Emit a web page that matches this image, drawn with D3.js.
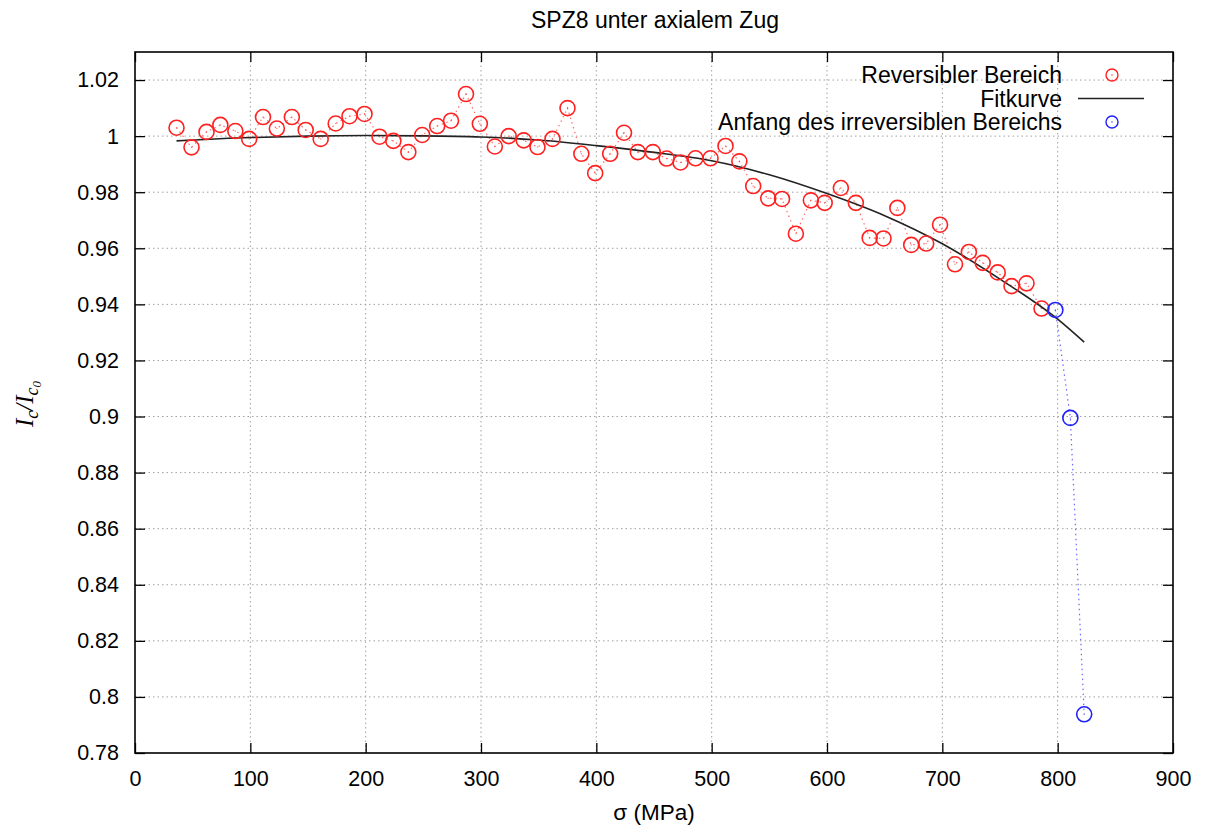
<!DOCTYPE html>
<html>
<head>
<meta charset="utf-8">
<script src="https://cdn.jsdelivr.net/npm/d3@7"></script>
<style>
  body { margin: 0; background: #fff; }
  svg { font-family: "Liberation Sans", Arial, sans-serif; }
</style>
</head>
<body>
<svg id="chart"></svg>
<script>
// reversible range: stress (MPa) and normalized critical current
const revStress = [36, 49, 62, 74, 87, 99, 111, 123, 136, 148, 161, 174, 186, 199, 212, 224, 237, 249, 262, 274,
  287, 299, 312, 324, 337, 349, 362, 375, 387, 399, 412, 424, 436, 449, 461, 473, 486, 499, 512, 524,
  536, 549, 561, 573, 586, 598, 612, 625, 637, 649, 661, 673, 686, 698, 711, 723, 735, 748, 760, 773, 786];
const revIc = [1.003, 0.996, 1.0015, 1.004, 1.0018, 0.999, 1.0068, 1.0027, 1.0068, 1.0022, 0.999, 1.0045, 1.0071, 1.0079, 0.9998, 0.9983, 0.9943, 1.0004, 1.0036, 1.0055,
  1.015, 1.0044, 0.9963, 1.0, 0.9985, 0.9961, 0.999, 1.01, 0.9937, 0.9868, 0.9937, 1.0012, 0.9943, 0.9943, 0.992, 0.9906, 0.9921, 0.9921, 0.9965, 0.991,
  0.9822, 0.9778, 0.9776, 0.9652, 0.9771, 0.9762, 0.9815, 0.9762, 0.9637, 0.9635, 0.9744, 0.9612, 0.9617, 0.9684, 0.9543, 0.9587, 0.9548, 0.9514, 0.9465, 0.9475, 0.9385];

// start of irreversible range
const irrStress = [798, 811, 823];
const irrIc = [0.938, 0.8995, 0.7938];

// fit curve
const fitStress = [36, 100, 150, 200, 250, 300, 350, 400, 450, 500, 550, 600, 650, 700, 750, 800, 823];
const fitIc = [0.9983, 0.9995, 1.0, 1.0002, 1.0001, 0.9997, 0.9986, 0.9966, 0.9942, 0.9912, 0.9862, 0.9795, 0.9716, 0.9616, 0.949, 0.9347, 0.9265];

const xTicks = [0, 100, 200, 300, 400, 500, 600, 700, 800, 900];
const yTicks = [0.78, 0.8, 0.82, 0.84, 0.86, 0.88, 0.9, 0.92, 0.94, 0.96, 0.98, 1, 1.02];

const width = 1205, height = 827;
const margin = { top: 52, right: 32, bottom: 74, left: 135 };
const innerW = width - margin.left - margin.right;
const innerH = height - margin.top - margin.bottom;

const svg = d3.select("#chart").attr("width", width).attr("height", height);
const g = svg.append("g").attr("transform", `translate(${margin.left},${margin.top})`);

const x = d3.scaleLinear().domain([0, 900]).range([0, innerW]);
const y = d3.scaleLinear().domain([0.78, 1.03]).range([innerH, 0]);

// dotted grid
g.append("g").selectAll("line").data(xTicks.slice(1, -1)).join("line")
  .attr("x1", d => x(d)).attr("x2", d => x(d)).attr("y1", 0).attr("y2", innerH)
  .attr("stroke", "#a0a0a0").attr("stroke-dasharray", "1.5,3").attr("stroke-width", 1);
g.append("g").selectAll("line").data(yTicks.slice(1)).join("line")
  .attr("x1", 0).attr("x2", innerW).attr("y1", d => y(d)).attr("y2", d => y(d))
  .attr("stroke", "#a0a0a0").attr("stroke-dasharray", "1.5,3").attr("stroke-width", 1);

// axes, ticks pointing inwards on all four sides
const fmt = d3.format("~g");
const xAxis = g.append("g").attr("transform", `translate(0,${innerH})`)
  .call(d3.axisBottom(x).tickValues(xTicks).tickSize(-10).tickPadding(18).tickFormat(fmt));
const yAxis = g.append("g")
  .call(d3.axisLeft(y).tickValues(yTicks).tickSize(-10).tickPadding(16).tickFormat(fmt));
g.append("g").call(d3.axisTop(x).tickValues(xTicks).tickSize(-10).tickFormat(""));
g.append("g").attr("transform", `translate(${innerW},0)`)
  .call(d3.axisRight(y).tickValues(yTicks).tickSize(-10).tickFormat(""));

g.selectAll(".domain").remove();
g.selectAll(".tick line").attr("stroke", "#000").attr("stroke-width", 1.3);
xAxis.selectAll("text").attr("font-size", 21.5).attr("fill", "#000");
yAxis.selectAll("text").attr("font-size", 21.5).attr("fill", "#000");

// frame
g.append("rect").attr("width", innerW).attr("height", innerH)
  .attr("fill", "none").attr("stroke", "#000").attr("stroke-width", 1.6);

const rev = revStress.map((s, i) => ({ s, v: revIc[i] }));
const irr = irrStress.map((s, i) => ({ s, v: irrIc[i] }));
const fit = fitStress.map((s, i) => ({ s, v: fitIc[i] }));

const line = d3.line().x(d => x(d.s)).y(d => y(d.v));

// dotted connections between measurements
g.append("path").attr("d", line(rev)).attr("fill", "none")
  .attr("stroke", "#ff6a6a").attr("stroke-width", 1.2).attr("stroke-dasharray", "1.5,3.5");
g.append("path").attr("d", line(irr)).attr("fill", "none")
  .attr("stroke", "#6a6aff").attr("stroke-width", 1.2).attr("stroke-dasharray", "1.5,3.5");

// fit curve
g.append("path").attr("d", line.curve(d3.curveMonotoneX)(fit)).attr("fill", "none")
  .attr("stroke", "#222").attr("stroke-width", 1.6);

function drawPoints(data, color) {
  const pts = g.append("g");
  pts.selectAll("circle").data(data).join("circle")
    .attr("cx", d => x(d.s)).attr("cy", d => y(d.v)).attr("r", 7.5)
    .attr("fill", "none").attr("stroke", color).attr("stroke-width", 1.6);
  pts.selectAll("rect").data(data).join("rect")
    .attr("x", d => x(d.s) - 0.6).attr("y", d => y(d.v) - 0.6).attr("width", 1.2).attr("height", 1.2)
    .attr("fill", color).attr("opacity", 0.6);
}
drawPoints(rev, "#ff2020");
drawPoints(irr, "#2020ff");

// legend
const legend = svg.append("g").attr("font-size", 23);
const legendRows = [
  { label: "Reversibler Bereich", type: "circle", color: "#ff2020" },
  { label: "Fitkurve", type: "line", color: "#222" },
  { label: "Anfang des irreversiblen Bereichs", type: "circle", color: "#2020ff" }
];
legendRows.forEach((r, i) => {
  const yy = 75 + i * 23.5;
  legend.append("text").attr("x", 1062).attr("y", yy).attr("dy", "0.35em")
    .attr("text-anchor", "end").text(r.label);
  if (r.type === "circle") {
    legend.append("circle").attr("cx", 1112).attr("cy", yy).attr("r", 6)
      .attr("fill", "none").attr("stroke", r.color).attr("stroke-width", 1.4);
    legend.append("rect").attr("x", 1111.4).attr("y", yy - 0.6).attr("width", 1.2).attr("height", 1.2)
      .attr("fill", r.color);
  } else {
    legend.append("line").attr("x1", 1078).attr("x2", 1144).attr("y1", yy).attr("y2", yy)
      .attr("stroke", r.color).attr("stroke-width", 1.6);
  }
});

// title and axis labels
svg.append("text").attr("x", 655).attr("y", 28).attr("text-anchor", "middle")
  .attr("font-size", 23).text("SPZ8 unter axialem Zug");

svg.append("text").attr("x", 654).attr("y", 820).attr("text-anchor", "middle")
  .attr("font-size", 22.5).text("σ (MPa)");

const yLabel = svg.append("text")
  .attr("transform", "translate(33,404) rotate(-90)")
  .attr("text-anchor", "middle")
  .attr("font-family", "'Liberation Serif', 'DejaVu Serif', serif")
  .attr("font-style", "italic").attr("font-size", 25);
yLabel.append("tspan").text("I");
yLabel.append("tspan").attr("font-size", 18).attr("dy", 5).text("c");
yLabel.append("tspan").attr("dy", -5).text("/I");
yLabel.append("tspan").attr("font-size", 18).attr("dy", 5).text("c");
yLabel.append("tspan").attr("font-size", 13).attr("dy", 3).text("0");
</script>
</body>
</html>
